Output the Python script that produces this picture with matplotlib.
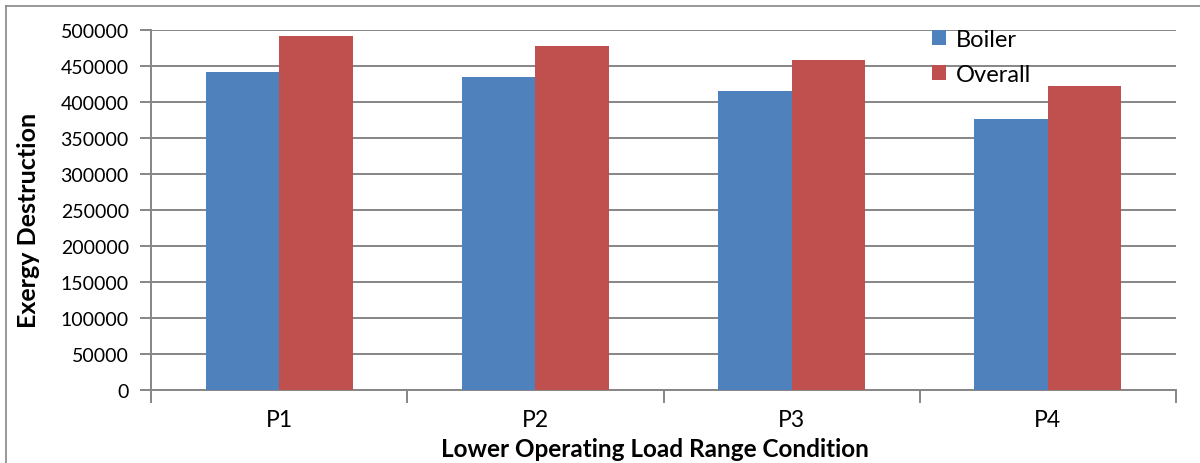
import matplotlib
matplotlib.use("Agg")
import matplotlib.pyplot as plt
import numpy as np
from matplotlib.lines import Line2D

categories = ["P1", "P2", "P3", "P4"]
boiler = [441700, 435100, 414700, 376800]
overall = [491250, 478300, 457900, 421700]
yticks = [0, 50000, 100000, 150000, 200000, 250000, 300000, 350000, 400000, 450000, 500000]

plt.rcParams['font.family'] = ['Lato', 'DejaVu Sans']

W, H = 1200, 464
fig = plt.figure(figsize=(W / 100, H / 100), dpi=100)
ax = fig.add_axes([151 / W, 1 - 391 / H, (1176 - 151) / W, 360 / H])

grid_c = "#868686"
x = np.arange(len(categories))
bw = 0.287
ax.bar(x - bw / 2, boiler, width=bw, color="#4F81BD", label="Boiler", zorder=3)
ax.bar(x + bw / 2, overall, width=bw, color="#C0504D", label="Overall", zorder=3)

ax.set_xlim(-0.5, len(categories) - 0.5)
ax.set_ylim(0, 500000)
ax.set_yticks(yticks)
ax.set_yticklabels([str(v) for v in yticks], fontsize=14)
ax.yaxis.grid(True, color=grid_c, linewidth=1.4, zorder=0)

for s in ["top", "right"]:
    ax.spines[s].set_visible(False)
for s in ["left", "bottom"]:
    ax.spines[s].set_color(grid_c)
    ax.spines[s].set_linewidth(1.4)

ax.tick_params(axis="y", length=8, width=1.4, color=grid_c, pad=8)
# category boundaries carry the tick marks, labels sit at the centres
ax.set_xticks(np.arange(-0.5, len(categories), 1.0))
ax.set_xticklabels([])
ax.set_xticks(x, minor=True)
ax.set_xticklabels(categories, minor=True, fontsize=16.5)
ax.tick_params(axis="x", which="major", length=9, width=1.4, color=grid_c)
ax.tick_params(axis="x", which="minor", length=0, pad=14)

fig.text(29 / W, 1 - 220 / H, "Exergy Destruction", rotation=90, fontsize=18,
         fontweight="bold", ha="center", va="center")
fig.text(655 / W, 1 - 450 / H, "Lower Operating Load Range Condition", fontsize=17.5,
         fontweight="bold", ha="center", va="center")

ax.legend(loc="upper left", bbox_to_anchor=(932 / W, 1 - 30 / H),
          bbox_transform=fig.transFigure, frameon=False, fontsize=17,
          handlelength=0.6, handleheight=0.6, handletextpad=0.4,
          labelspacing=0.6, borderpad=0, borderaxespad=0)

# outer chart frame
fig.add_artist(Line2D([6 / W, 1.0], [1 - 7 / H, 1 - 7 / H], color=grid_c, linewidth=1.2))
fig.add_artist(Line2D([6 / W, 6 / W], [0.0, 1 - 7 / H], color=grid_c, linewidth=1.2))

fig.savefig("out.png", dpi=100)
